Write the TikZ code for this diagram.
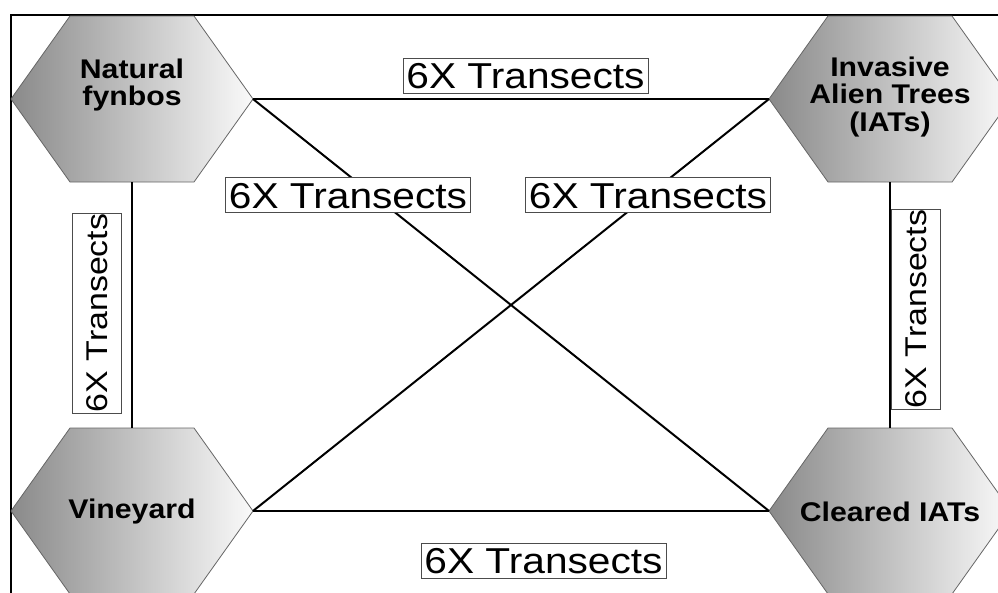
\documentclass[tikz,border=0pt]{standalone}
\usepackage{fontspec}
\setmainfont{Liberation Sans}
\newfontfamily\lblfont{Liberation Sans}[FakeStretch=1.13]
\newfontfamily\hexfont{Liberation Sans}[FakeStretch=1.12]
\newcommand{\hexagonat}[3]{%
  \begin{scope}[shift={(#2,#3)}]
    \path[hexfill] (-121,0) -- (-62,-83) -- (62,-83) -- (121,0) -- (62,83) -- (-62,83) -- cycle;
    \coordinate (#1-w) at (-121,0);
    \coordinate (#1-e) at (121,0);
    \coordinate (#1-n) at (0,-83);
    \coordinate (#1-s) at (0,83);
  \end{scope}}
\tikzset{
  hexfill/.style={left color=black!46, right color=black!2, draw=black!60, line width=0.8},
  hextext/.style={align=center, font=\hexfont\bfseries\fontsize{27}{27.5}\selectfont, inner sep=0},
  conn/.style={line width=2, black},
  hlabel/.style={draw=black!70, line width=0.9, fill=white, inner sep=0, minimum width=245,
    minimum height=35, text height=26, text depth=0, font=\lblfont\fontsize{36}{40}\selectfont},
  vlabel/.style={hlabel, rotate=90, minimum width=200, minimum height=49, text height=21.5,
    font=\lblfont\fontsize{30}{34}\selectfont},
}
\begin{document}
\begin{tikzpicture}[x=1pt,y=-1pt]
  \useasboundingbox (0,0) rectangle (998,592);
  \clip (0,0) rectangle (998,592);
  \node[draw, line width=2, minimum width=1000, minimum height=600, anchor=north west, inner sep=0] (frame) at (10,14) {};
  % hexagons
  \hexagonat{NF}{132}{99}
  \hexagonat{IAT}{890}{99}
  \hexagonat{V}{132}{511}
  \hexagonat{CI}{890}{511}
  \node[hextext] (nf) at (132,85) {Natural\\fynbos};
  \node[hextext] (iat) at (890,97) {Invasive\\Alien Trees\\(IATs)};
  \node[hextext] (v) at (132,512) {Vineyard};
  \node[hextext] (ci) at (890,512) {Cleared IATs};
  % connectors
  \draw[conn] (NF-e) -- (IAT-w);
  \draw[conn] (V-e) -- (CI-w);
  \draw[conn] (NF-e) -- (CI-w);
  \draw[conn] (V-e) -- (IAT-w);
  \draw[conn] (NF-s) -- (V-n);
  \draw[conn] (IAT-s) -- (CI-n);
  % labels
  \node[hlabel] (ltop) at (525.5,75.5) {6X Transects};
  \node[hlabel] (lbot) at (543.5,560.5) {6X Transects};
  \node[hlabel] (ldl) at (348,195) {6X Transects};
  \node[hlabel] (ldr) at (648,195) {6X Transects};
  \node[vlabel] (lleft) at (96.5,313) {6X Transects};
  \node[vlabel] (lright) at (915.5,309) {6X Transects};
\end{tikzpicture}
\end{document}
